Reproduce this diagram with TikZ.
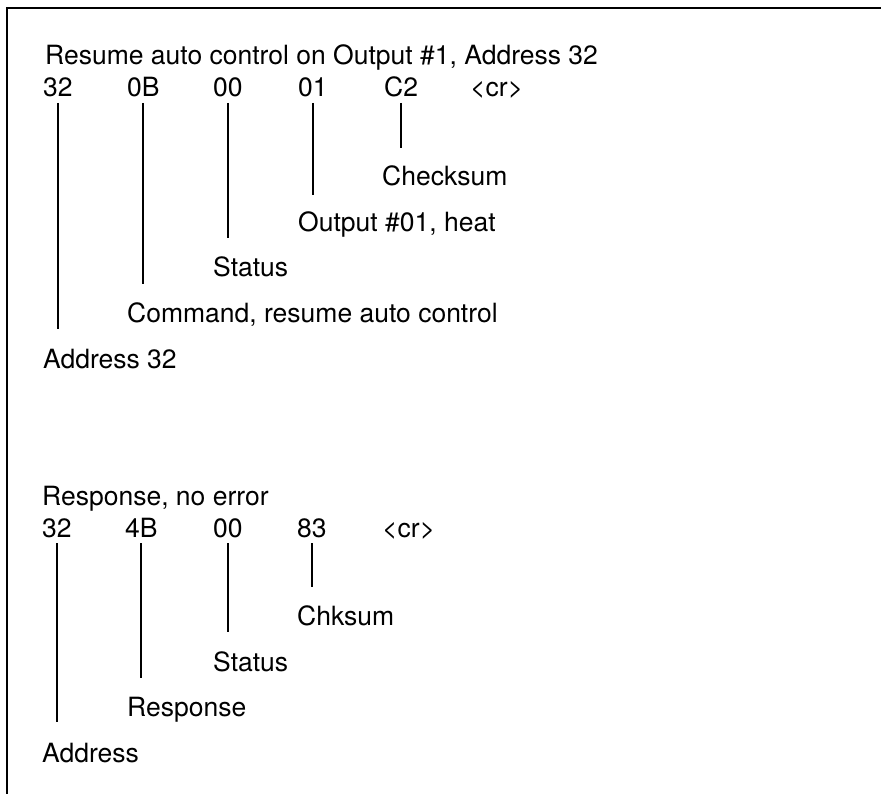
\documentclass[tikz,border=0pt]{standalone}
\usepackage{fontspec}
\setmainfont{TeX Gyre Heros}
\usetikzlibrary{calc}
\begin{document}
\begin{tikzpicture}[x=1pt,y=-1pt,
  txt/.style={anchor=base west, inner sep=0pt, font=\fontsize{26.5}{30}\selectfont},
  conn/.style={line width=2pt},
  framel/.style={line width=2.6pt}]
\useasboundingbox (0,0) rectangle (881,794);
% frame (top and left edges only)
\coordinate (ftl) at (7,8);
\coordinate (ftr) at (881,8);
\coordinate (fbl) at (7,794);
\draw[framel] (ftr) -- (ftl) -- (fbl);

% ---- command ----
\node[txt] (t1) at (45,65) {Resume auto control on Output \#1, Address 32};
\node[txt] (a1) at (43,97) {32};
\node[txt] (b1) at (127,97) {0B};
\node[txt] (c1) at (213,97) {00};
\node[txt] (d1) at (298,97) {01};
\node[txt] (e1) at (384,97) {C2};
\node[txt] (f1) at (470,97) {<cr>};
\node[txt] (le1) at (382,186) {Checksum};
\node[txt] (ld1) at (298,232) {Output \#01, heat};
\node[txt] (lc1) at (213,277) {Status};
\node[txt] (lb1) at (127,323) {Command, resume auto control};
\node[txt] (la1) at (43,368) {Address 32};
\draw[conn] ([yshift=-6pt]a1.base) -- ($(a1.base |- la1.base)+(0,-39)$);
\draw[conn] ([yshift=-6pt]b1.base) -- ($(b1.base |- lb1.base)+(0,-39)$);
\draw[conn] ([yshift=-6pt]c1.base) -- ($(c1.base |- lc1.base)+(0,-39)$);
\draw[conn] ([yshift=-6pt]d1.base) -- ($(d1.base |- ld1.base)+(0,-37)$);
\draw[conn] ([yshift=-6pt]e1.base) -- ($(e1.base |- le1.base)+(0,-38)$);

% ---- response ----
\node[txt] (t2) at (42,505) {Response, no error};
\node[txt] (a2) at (42,537) {32};
\node[txt] (b2) at (125,537) {4B};
\node[txt] (c2) at (213,537) {00};
\node[txt] (d2) at (297,537) {83};
\node[txt] (f2) at (382,537) {<cr>};
\node[txt] (ld2) at (297,625.5) {Chksum};
\node[txt] (lc2) at (213,671) {Status};
\node[txt] (lb2) at (127,716.5) {Response};
\node[txt] (la2) at (42,762) {Address};
\draw[conn] ([yshift=-6pt]a2.base) -- ($(a2.base |- la2.base)+(0,-40)$);
\draw[conn] ([yshift=-6pt]b2.base) -- ($(b2.base |- lb2.base)+(0,-39)$);
\draw[conn] ([yshift=-6pt]c2.base) -- ($(c2.base |- lc2.base)+(0,-39)$);
\draw[conn] ([yshift=-6pt]d2.base) -- ($(d2.base |- ld2.base)+(0,-39)$);
\end{tikzpicture}
\end{document}
